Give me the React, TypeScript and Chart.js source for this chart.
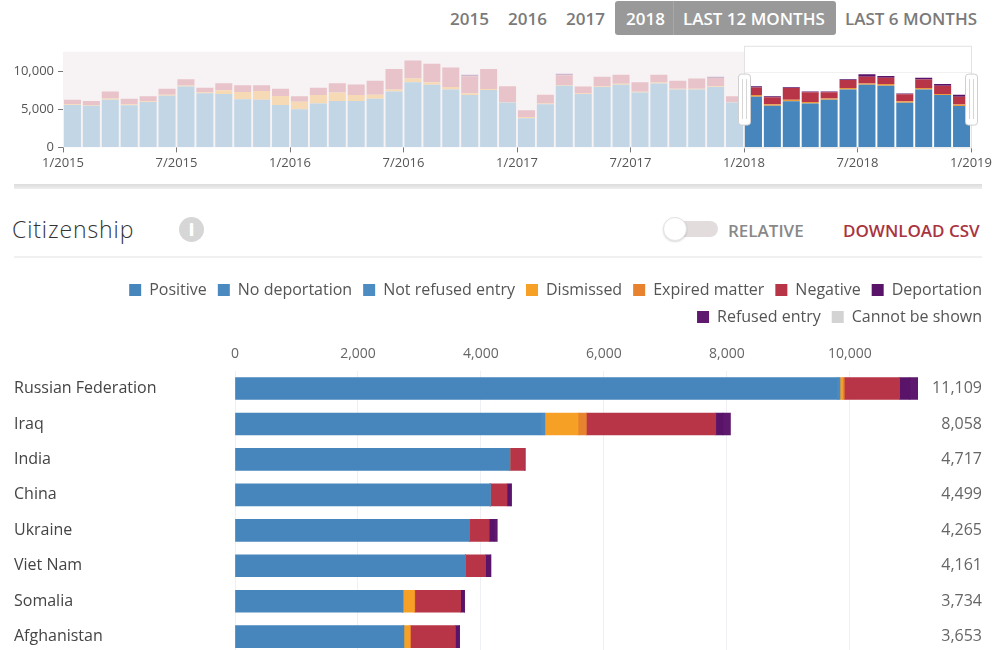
import React, { useEffect, useRef } from "react";
import { Chart, registerables } from "chart.js";

Chart.register(...registerables);

const FONT = "'Open Sans', 'Noto Sans', sans-serif";
Chart.defaults.font.family = FONT;

// ---------- Overview (monthly) chart data ----------
const miniTickLabels = ["1/2015", "7/2015", "1/2016", "7/2016", "1/2017", "7/2017", "1/2018", "7/2018", "1/2019"];
const miniYTicks = [0, 5000, 10000];
const SELECTED_START = 36; // 1/2018
const miniPositive = [
  5580, 5500, 6280, 5540, 5990, 6820, 8020, 7150, 7025, 6360, 6280, 5580,
  5040, 5785, 6115, 6115, 6400, 7355, 8600, 8260, 7640, 6900, 7560, 5910,
  3840, 5700, 8140, 7025, 7975, 8260, 7230, 8430, 7640, 7640, 7975, 5910,
  6690, 5500, 6070, 5785, 6280, 7640, 8260, 8140, 5870, 7640, 6900, 5450,
];
const miniDismissed = [
  120, 80, 180, 150, 100, 120, 150, 120, 495, 950, 1160, 1200,
  990, 1115, 1115, 785, 540, 285, 490, 340, 335, 250, 130, 80,
  160, 80, 80, 120, 100, 120, 100, 120, 80, 80, 80, 80,
  200, 200, 200, 200, 150, 200, 150, 200, 200, 200, 150, 200,
];
const miniNegative = [
  580, 535, 895, 710, 645, 790, 800, 580, 950, 870, 740, 950,
  705, 950, 1240, 1400, 1860, 2690, 2360, 2430, 2565, 2240, 2640, 2070,
  880, 1160, 1290, 875, 1225, 1210, 1270, 1040, 1080, 1370, 1105, 745,
  990, 925, 1560, 1270, 825, 1030, 900, 850, 940, 1100, 1080, 1010,
];
const miniDeportation = [
  0, 0, 0, 0, 0, 0, 0, 0, 0, 0, 0, 0,
  0, 0, 0, 0, 0, 0, 0, 0, 0, 200, 0, 0,
  0, 0, 200, 0, 0, 0, 0, 0, 0, 0, 140, 0,
  180, 110, 100, 100, 100, 100, 320, 230, 100, 230, 220, 280,
];

// ---------- Citizenship chart data ----------
const countries = ["Russian Federation", "Iraq", "India", "China", "Ukraine", "Viet Nam", "Somalia", "Afghanistan"];
const positive = [9800, 4960, 4465, 4150, 3815, 3750, 2730, 2745];
const noDeportation = [20, 40, 5, 0, 0, 0, 0, 0];
const notRefusedEntry = [20, 40, 0, 0, 0, 0, 0, 0];
const dismissed = [40, 540, 0, 0, 0, 0, 185, 95];
const expiredMatter = [30, 135, 0, 0, 0, 0, 10, 15];
const negative = [900, 2105, 240, 275, 320, 325, 745, 730];
const deportation = [165, 118, 7, 50, 80, 86, 64, 68];
const refusedEntry = [134, 120, 0, 24, 50, 0, 0, 0];
const cannotBeShown = [0, 0, 0, 0, 0, 0, 0, 0];

const seriesNames = [
  "Positive", "No deportation", "Not refused entry", "Dismissed", "Expired matter",
  "Negative", "Deportation", "Refused entry", "Cannot be shown",
];
const seriesValues = [
  positive, noDeportation, notRefusedEntry, dismissed, expiredMatter,
  negative, deportation, refusedEntry, cannotBeShown,
];
const seriesColors = [
  "#4686bd", "#4a8ac1", "#4c8cc3", "#f6a026", "#e7822e",
  "#b73547", "#59146a", "#5e186e", "#d3d3d3",
];
const xTicks = [0, 2000, 4000, 6000, 8000, 10000];

const totals = countries.map((_, i) => seriesValues.reduce((s, arr) => s + arr[i], 0));
const maxTotal = Math.max(...totals);

// ---------- Overview chart ----------
function roundRectPath(ctx: CanvasRenderingContext2D, x: number, y: number, w: number, h: number, r: number) {
  ctx.beginPath();
  ctx.moveTo(x + r, y);
  ctx.lineTo(x + w - r, y);
  ctx.quadraticCurveTo(x + w, y, x + w, y + r);
  ctx.lineTo(x + w, y + h - r);
  ctx.quadraticCurveTo(x + w, y + h, x + w - r, y + h);
  ctx.lineTo(x + r, y + h);
  ctx.quadraticCurveTo(x, y + h, x, y + h - r);
  ctx.lineTo(x, y + r);
  ctx.quadraticCurveTo(x, y, x + r, y);
  ctx.closePath();
}

const selectionPlugin = {
  id: "selection",
  beforeDatasetsDraw(chart: any) {
    const { ctx, chartArea, scales } = chart;
    const x = scales.x;
    const y = scales.y;
    const xs = Math.round(x.getPixelForValue(SELECTED_START));
    const xe = Math.round(x.getPixelForValue(48));
    ctx.save();
    ctx.fillStyle = "#f7f3f5";
    ctx.fillRect(chartArea.left, chartArea.top, xs - chartArea.left, chartArea.bottom - chartArea.top);
    ctx.strokeStyle = "#e3e3e3";
    ctx.lineWidth = 1;
    ctx.strokeRect(xs + 0.5, chartArea.top - 6 + 0.5, xe - xs, chartArea.bottom - chartArea.top + 6);
    const gy = Math.round(y.getPixelForValue(10000)) + 0.5;
    ctx.strokeStyle = "#f1f1f1";
    ctx.beginPath();
    ctx.moveTo(xs + 1, gy);
    ctx.lineTo(xe, gy);
    ctx.stroke();
    ctx.restore();
  },
  afterDatasetsDraw(chart: any) {
    const { ctx, chartArea, scales } = chart;
    const x = scales.x;
    const cy = (chartArea.top + chartArea.bottom) / 2 - 0.5;
    [SELECTED_START, 48].forEach((v) => {
      const px = Math.round(x.getPixelForValue(v));
      ctx.save();
      roundRectPath(ctx, px - 6 + 0.5, cy - 25.5 + 0.5, 12, 51, 3);
      ctx.fillStyle = "#ffffff";
      ctx.fill();
      ctx.strokeStyle = "#cfcfcf";
      ctx.lineWidth = 1;
      ctx.stroke();
      ctx.strokeStyle = "#d6d6d6";
      ctx.beginPath();
      ctx.moveTo(px - 1.5, cy - 20);
      ctx.lineTo(px - 1.5, cy + 20);
      ctx.moveTo(px + 2.5, cy - 20);
      ctx.lineTo(px + 2.5, cy + 20);
      ctx.stroke();
      ctx.restore();
    });
  },
};

function pick(strong: string, faded: string) {
  return (c: any) => (c.dataIndex >= SELECTED_START ? strong : faded);
}

function OverviewChart() {
  const ref = useRef<HTMLCanvasElement>(null);
  useEffect(() => {
    const toPts = (arr: number[]) => arr.map((v, i) => ({ x: i + 0.5, y: v }));
    const chart = new Chart(ref.current as HTMLCanvasElement, {
      type: "bar",
      data: {
        datasets: [
          { label: "Positive", data: toPts(miniPositive) as any, backgroundColor: pick("#4686bd", "#c2d6e6") as any },
          { label: "Dismissed", data: toPts(miniDismissed) as any, backgroundColor: pick("#ec9a3e", "#f6d9b5") as any },
          { label: "Negative", data: toPts(miniNegative) as any, backgroundColor: pick("#b73547", "#e8c3c9") as any },
          { label: "Deportation", data: toPts(miniDeportation) as any, backgroundColor: pick("#59146a", "#cdb8cf") as any },
        ],
      },
      options: {
        animation: false,
        responsive: false,
        layout: { padding: { top: 8, right: 30, left: 0, bottom: 0 } },
        plugins: { legend: { display: false }, tooltip: { enabled: false } },
        datasets: { bar: { barPercentage: 0.9, categoryPercentage: 1 } as any },
        scales: {
          x: {
            type: "linear",
            stacked: true,
            min: 0,
            max: 48,
            offset: false,
            grid: { offset: false, drawOnChartArea: false, drawTicks: true, tickLength: 5, color: "#777" },
            border: { display: false },
            afterBuildTicks: (s: any) => {
              s.ticks = miniTickLabels.map((_, i) => ({ value: i * 6 }));
            },
            ticks: {
              autoSkip: false,
              maxRotation: 0,
              padding: 3,
              color: "#555",
              font: { size: 13 },
              callback: (v: any) => miniTickLabels[Math.round(Number(v) / 6)] ?? "",
            },
          } as any,
          y: {
            stacked: true,
            min: 0,
            max: 12600,
            grid: { drawOnChartArea: false, drawTicks: true, tickLength: 5, color: "#777" },
            border: { display: false },
            afterBuildTicks: (s: any) => {
              s.ticks = miniYTicks.map((v) => ({ value: v }));
            },
            ticks: {
              padding: 4,
              color: "#555",
              font: { size: 13 },
              callback: (v: any) => Number(v).toLocaleString("en-US"),
            },
            afterFit: (s: any) => {
              s.width = 63;
            },
          } as any,
        },
      },
      plugins: [selectionPlugin],
    });
    return () => chart.destroy();
  }, []);
  return <canvas ref={ref} width={1001} height={134} style={{ position: "absolute", left: 0, top: 40 }} />;
}

// ---------- Citizenship chart ----------
const totalsPlugin = {
  id: "totals",
  afterDatasetsDraw(chart: any) {
    const { ctx, scales } = chart;
    const y = scales.y;
    ctx.save();
    ctx.font = `16px ${FONT}`;
    ctx.fillStyle = "#666";
    ctx.textAlign = "right";
    ctx.textBaseline = "middle";
    totals.forEach((t, i) => {
      ctx.fillText(t.toLocaleString("en-US"), chart.width - 11, y.getPixelForValue(i));
    });
    ctx.restore();
  },
};

function CitizenshipChart() {
  const ref = useRef<HTMLCanvasElement>(null);
  useEffect(() => {
    const chart = new Chart(ref.current as HTMLCanvasElement, {
      type: "bar",
      data: {
        labels: countries,
        datasets: seriesNames.map((name, k) => ({
          label: name,
          data: seriesValues[k],
          backgroundColor: seriesColors[k],
          borderWidth: 0,
          barThickness: 22,
        })),
      },
      options: {
        indexAxis: "y",
        animation: false,
        responsive: false,
        layout: { padding: 0 },
        plugins: {
          legend: {
            position: "top",
            align: "end",
            labels: {
              boxWidth: 12,
              boxHeight: 12,
              padding: 11,
              color: "#555",
              font: { size: 16 },
            },
          },
          tooltip: { enabled: false },
        },
        scales: {
          x: {
            position: "top",
            stacked: true,
            min: 0,
            max: maxTotal,
            grid: { color: "#eef0f3", drawTicks: false },
            border: { display: false },
            afterBuildTicks: (s: any) => {
              s.ticks = xTicks.map((v) => ({ value: v }));
            },
            ticks: {
              padding: 8,
              color: "#666",
              font: { size: 14 },
              maxRotation: 0,
              autoSkip: false,
              callback: (v: any) => Number(v).toLocaleString("en-US"),
            },
            afterFit: (s: any) => {
              s.height += 3;
            },
          } as any,
          y: {
            stacked: true,
            grid: { display: false },
            border: { display: false },
            ticks: { crossAlign: "far", color: "#444", font: { size: 16 }, padding: 0 },
            afterFit: (s: any) => {
              s.width = 221;
            },
          } as any,
          y2: {
            type: "category",
            labels: countries,
            position: "right",
            grid: { display: false },
            border: { display: false },
            ticks: { display: false },
            afterFit: (s: any) => {
              s.width = 75;
            },
          } as any,
        },
      },
      plugins: [totalsPlugin],
    });
    return () => chart.destroy();
  }, []);
  return <canvas ref={ref} width={979} height={393} style={{ position: "absolute", left: 14, top: 271 }} />;
}

// ---------- Page ----------
const btnText: React.CSSProperties = {
  position: "absolute",
  top: 4,
  height: 30,
  lineHeight: "30px",
  fontFamily: FONT,
  fontWeight: 600,
  fontSize: 17,
  color: "#7a7a7a",
  whiteSpace: "nowrap",
};

export default function App() {
  return (
    <div
      style={{
        position: "absolute",
        left: 0,
        top: 0,
        width: 1001,
        height: 650,
        overflow: "hidden",
        background: "#ffffff",
        fontFamily: FONT,
      }}
    >
      {/* period buttons */}
      <span style={{ ...btnText, left: 450 }}>2015</span>
      <span style={{ ...btnText, left: 508 }}>2016</span>
      <span style={{ ...btnText, left: 566 }}>2017</span>
      <div
        style={{
          position: "absolute",
          left: 615,
          top: 1,
          width: 221,
          height: 34,
          background: "#999999",
          borderRadius: 3,
        }}
      />
      <div style={{ position: "absolute", left: 673, top: 1, width: 1, height: 34, background: "#a8a8a8" }} />
      <span style={{ ...btnText, left: 626, color: "#ffffff" }}>2018</span>
      <span style={{ ...btnText, left: 683, color: "#ffffff" }}>LAST 12 MONTHS</span>
      <span style={{ ...btnText, left: 845 }}>LAST 6 MONTHS</span>

      <OverviewChart />
      <div
        style={{
          position: "absolute",
          left: 14,
          top: 184,
          width: 968,
          height: 5,
          background: "linear-gradient(#dcdcdc, #eeeeee)",
        }}
      />

      {/* header row */}
      <div
        style={{
          position: "absolute",
          left: 12,
          top: 213,
          height: 32,
          lineHeight: "32px",
          fontFamily: FONT,
          fontWeight: 300,
          fontSize: 23,
          letterSpacing: 0.9,
          color: "#333",
        }}
      >
        Citizenship
      </div>
      <div
        style={{
          position: "absolute",
          left: 179,
          top: 217,
          width: 25,
          height: 25,
          borderRadius: "50%",
          background: "#d6d6d6",
          color: "#ffffff",
          fontFamily: FONT,
          fontWeight: 800,
          fontSize: 17,
          lineHeight: "25px",
          textAlign: "center",
        }}
      >
        i
      </div>
      <div
        style={{
          position: "absolute",
          left: 668,
          top: 221,
          width: 50,
          height: 16,
          borderRadius: 8,
          background: "#e3dcdc",
        }}
      />
      <div
        style={{
          position: "absolute",
          left: 663,
          top: 217,
          width: 22,
          height: 22,
          borderRadius: "50%",
          background: "#ffffff",
          border: "1px solid #e2e2e2",
          boxShadow: "0 1px 2px rgba(0,0,0,0.15)",
        }}
      />
      <span
        style={{
          position: "absolute",
          left: 728,
          top: 216,
          height: 30,
          lineHeight: "30px",
          fontFamily: FONT,
          fontWeight: 600,
          fontSize: 17,
          color: "#888",
        }}
      >
        RELATIVE
      </span>
      <span
        style={{
          position: "absolute",
          left: 843,
          top: 216,
          height: 30,
          lineHeight: "30px",
          fontFamily: FONT,
          fontWeight: 600,
          fontSize: 17,
          color: "#a9343f",
        }}
      >
        DOWNLOAD CSV
      </span>
      <div style={{ position: "absolute", left: 14, top: 256, width: 968, height: 2, background: "#f0f0f0" }} />

      <CitizenshipChart />
    </div>
  );
}
